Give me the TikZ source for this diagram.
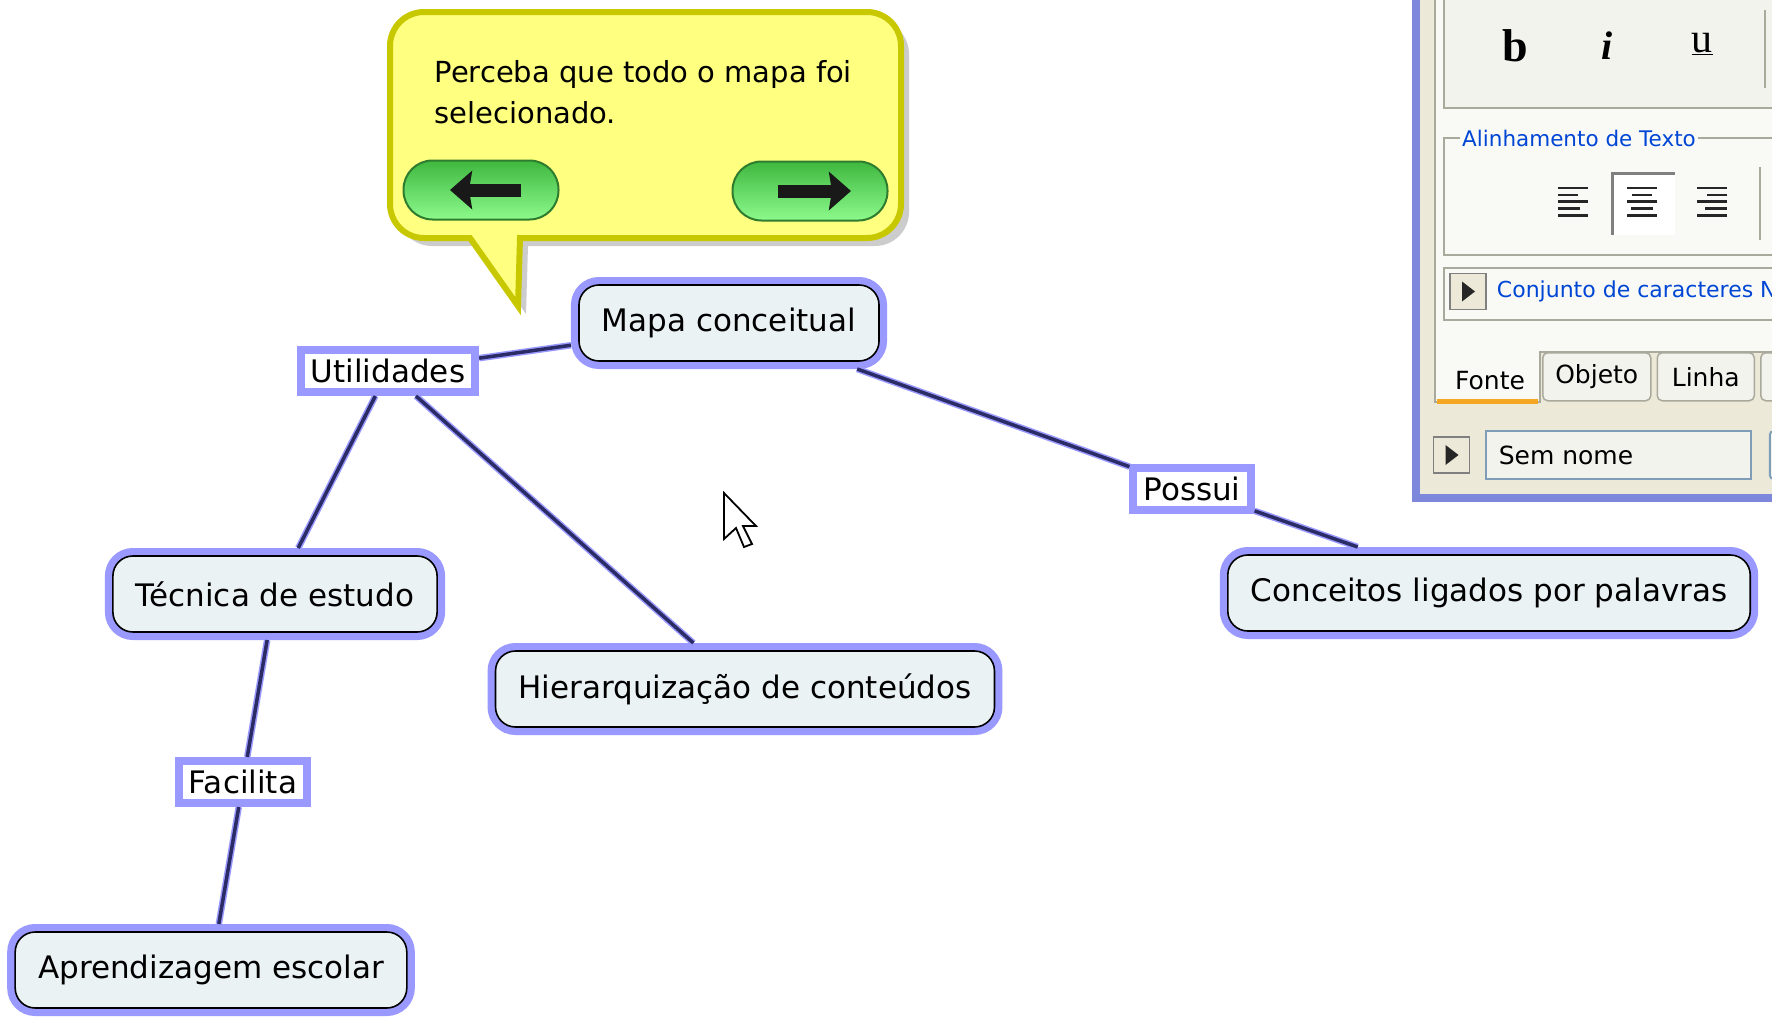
\documentclass[tikz,border=0pt]{standalone}
\usepackage{fontspec}
\setmainfont{DejaVu Sans}
\newfontfamily\uiserif{Liberation Serif}
\usetikzlibrary{positioning, shadows, arrows.meta}

\definecolor{haloblue}{HTML}{9999FF}
\definecolor{conceptfill}{HTML}{EBF2F4}
\definecolor{linknavy}{HTML}{2B2B66}
\definecolor{calloutfill}{HTML}{FFFF80}
\definecolor{calloutborder}{HTML}{C8C800}
\definecolor{btnborder}{HTML}{2E7D2E}
\definecolor{btntop}{HTML}{3FB83F}
\definecolor{btnbottom}{HTML}{8CFA8C}
\definecolor{panelblue}{HTML}{7D87DB}
\definecolor{panelbg}{HTML}{ECE9D8}
\definecolor{pagefill}{HTML}{F9F9F6}
\definecolor{groupfill}{HTML}{F3F3EE}
\definecolor{framegray}{HTML}{A9A99C}
\definecolor{groupblue}{HTML}{0046D5}
\definecolor{taborange}{HTML}{F5A623}
\definecolor{fieldborder}{HTML}{7F9DB9}

\begin{document}
\begin{tikzpicture}[x=1pt, y=-1pt]
  \newcommand\conceptminheight{76pt}
  \newcommand\conceptpadding{23pt}
  \newcommand\phraseminheight{42pt}
  \newcommand\mapfont{\fontsize{31}{37}\selectfont}
  \newcommand\panelfont{\fontsize{21.5}{26}\selectfont}
  \newcommand\tabfont{\fontsize{25}{30}\selectfont}

  \tikzset{concept/.style={draw=black, line width=1.6pt, fill=conceptfill, rounded corners=20pt, minimum height=\conceptminheight, inner xsep=\conceptpadding, outer sep=8pt, font=\mapfont, preaction={draw=haloblue, line width=16pt}}}
  \tikzset{phrase/.style={draw=haloblue, line width=8pt, fill=white, minimum height=\phraseminheight, inner xsep=10pt, inner ysep=0pt, font=\mapfont}}
  \tikzset{connector/.style={draw=linknavy, line width=3.5pt, preaction={draw=haloblue, line width=6.5pt}}}
  \tikzset{callout/.style={fill=calloutfill, draw=calloutborder, line width=6pt, drop shadow={shadow xshift=8pt, shadow yshift=-8pt, opacity=0.4}}}
  \tikzset{navbutton/.style={draw=btnborder, line width=2pt, rounded corners=29pt, top color=btntop, bottom color=btnbottom, minimum width=155pt, minimum height=59pt}}
  \tikzset{navarrow/.style={draw=black!90, line width=13pt, -{Stealth[length=22pt, width=38pt, inset=3pt]}}}
  \tikzset{groupframe/.style={draw=framegray, line width=1.5pt}}
  \tikzset{playbtn/.style={draw=gray, line width=1.5pt, fill=panelbg, minimum size=36pt, inner sep=0pt}}
  \tikzset{tabbox/.style={draw=framegray, line width=1.5pt, fill=groupfill, rounded corners=5pt, minimum height=48pt, anchor=north west, font=\tabfont}}
  \tikzset{iconline/.style={draw=black!85, line width=2.6pt}}

  \clip (0,0) rectangle (1772,1017);

  % balloon
  \draw[callout] (390,125) [rounded corners=34pt] -- (390,12) -- (901,12) -- (901,238) [sharp corners] -- (520,238) -- (518,306) -- (470,238) [rounded corners=34pt] -- (390,238) -- cycle;
  \node[anchor=west, align=left, font=\fontsize{29}{41}\selectfont] (callouttext) at (431,92) {Perceba que todo o mapa foi\\selecionado.};
  \node[navbutton] (backbtn) at (481,190) {};
  \node[navbutton] (nextbtn) at (810,191) {};
  \draw[navarrow] ([xshift=40pt]backbtn.center) -- ([xshift=-31pt]backbtn.center);
  \draw[navarrow] ([xshift=-32pt]nextbtn.center) -- ([xshift=41pt]nextbtn.center);

  % concepts and linking words
  \foreach \name/\xpos/\ypos/\txt in {mapa/729/323/Mapa conceitual, tecnica/275/594/Técnica de estudo, hierarquia/745/689/Hierarquização de conteúdos, aprendizagem/211/970/Aprendizagem escolar, conceitos/1489/593/Conceitos ligados por palavras}{
    \node[concept] (\name) at (\xpos,\ypos) {\txt};
  }
  \foreach \name/\xpos/\ypos/\txt in {utilidades/388/371/Utilidades, facilita/243/782/Facilita, possui/1192/489/Possui}{
    \node[phrase] (\name) at (\xpos,\ypos) {\txt};
  }

  \draw[connector] (utilidades) -- (mapa);
  \draw[connector] (utilidades) -- (tecnica);
  \draw[connector] (utilidades) -- (hierarquia);
  \draw[connector] (tecnica) -- (facilita);
  \draw[connector] (facilita) -- (aprendizagem);
  \draw[connector] (mapa) -- (possui);
  \draw[connector] (possui) -- (conceitos);

  % mouse pointer
  \draw[fill=white, draw=black, line width=1.8pt, line join=miter] (724,493) -- ++(0,46) -- ++(12,-11) -- ++(8,19) -- ++(8,-3) -- ++(-9,-18) -- ++(13,0) -- cycle;

  % side panel
  \draw[draw=panelblue, line width=8pt, fill=panelbg] (1416,-20) rectangle (1800,498);
  \draw[draw=framegray, line width=1.5pt, fill=pagefill] (1800,-10) -- (1435,-10) -- (1435,402) -- (1540,402) -- (1540,352) -- (1800,352);
  \draw[groupframe, fill=groupfill] (1444,-10) rectangle (1800,108);
  \draw[groupframe] (1765,10) -- (1765,88);
  \node[font=\fontsize{46}{50}\selectfont\uiserif\bfseries] (boldbtn) at (1515,46) {b};
  \node[font=\fontsize{40}{44}\selectfont\uiserif\bfseries\itshape] (italicbtn) at (1607,46) {i};
  \node[font=\fontsize{42}{46}\selectfont\uiserif] (underbtn) at (1702,44) {\underline{u}};

  \draw[groupframe] (1444,138) rectangle (1800,255);
  \node[anchor=west, fill=pagefill, inner xsep=2pt, text=groupblue, font=\panelfont] (aligntitle) at (1460,138) {Alinhamento de Texto};
  \fill[white] (1612,173) rectangle (1675,235);
  \draw[draw=gray, line width=3pt] (1612,235) -- (1612,173) -- (1675,173);
  \draw[groupframe] (1760,167) -- (1760,240);
  \foreach \row/\len in {0/30, 1/20, 2/30, 3/22, 4/30}{
    \draw[iconline] (1558,188+\row*6.8) -- ++(\len,0);
    \draw[iconline] (1642-\len/2,188+\row*6.8) -- ++(\len,0);
    \draw[iconline] (1727,188+\row*6.8) -- ++(-\len,0);
  }

  \draw[groupframe] (1444,268) rectangle (1800,320);
  \node[playbtn] (charsetplay) at (1468,291.5) {};
  \fill[black!85] ([xshift=-6pt, yshift=10pt]charsetplay.center) -- ([xshift=-6pt, yshift=-10pt]charsetplay.center) -- ([xshift=7pt]charsetplay.center) -- cycle;
  \node[right=10pt of charsetplay, text=groupblue, font=\fontsize{22}{26}\selectfont, inner xsep=0pt] (charsetlabel) {Conjunto de caracteres N};

  \node[font=\tabfont] (fontetab) at (1490,381) {Fonte};
  \draw[taborange, line width=5pt] (1437,401) -- (1538,401);
  \node[tabbox, minimum width=108pt] (objetotab) at (1542,352) {Objeto};
  \node[tabbox, minimum width=97pt, right=5pt of objetotab] (linhatab) {Linha};
  \node[tabbox, minimum width=60pt, right=5pt of linhatab] (extratab) {};

  \node[playbtn] (nameplay) at (1451.5,455) {};
  \fill[black!85] ([xshift=-6pt, yshift=10pt]nameplay.center) -- ([xshift=-6pt, yshift=-10pt]nameplay.center) -- ([xshift=7pt]nameplay.center) -- cycle;
  \node[draw=fieldborder, line width=1.5pt, fill=groupfill, minimum width=265pt, minimum height=48pt, right=15pt of nameplay] (namefield) {};
  \node[anchor=west, font=\tabfont] (namelabel) at ([xshift=10pt]namefield.west) {Sem nome};
  \node[draw=fieldborder, line width=2pt, fill=groupfill, rounded corners=4pt, minimum width=60pt, minimum height=48pt, right=17pt of namefield] (extrafield) {};
\end{tikzpicture}
\end{document}
